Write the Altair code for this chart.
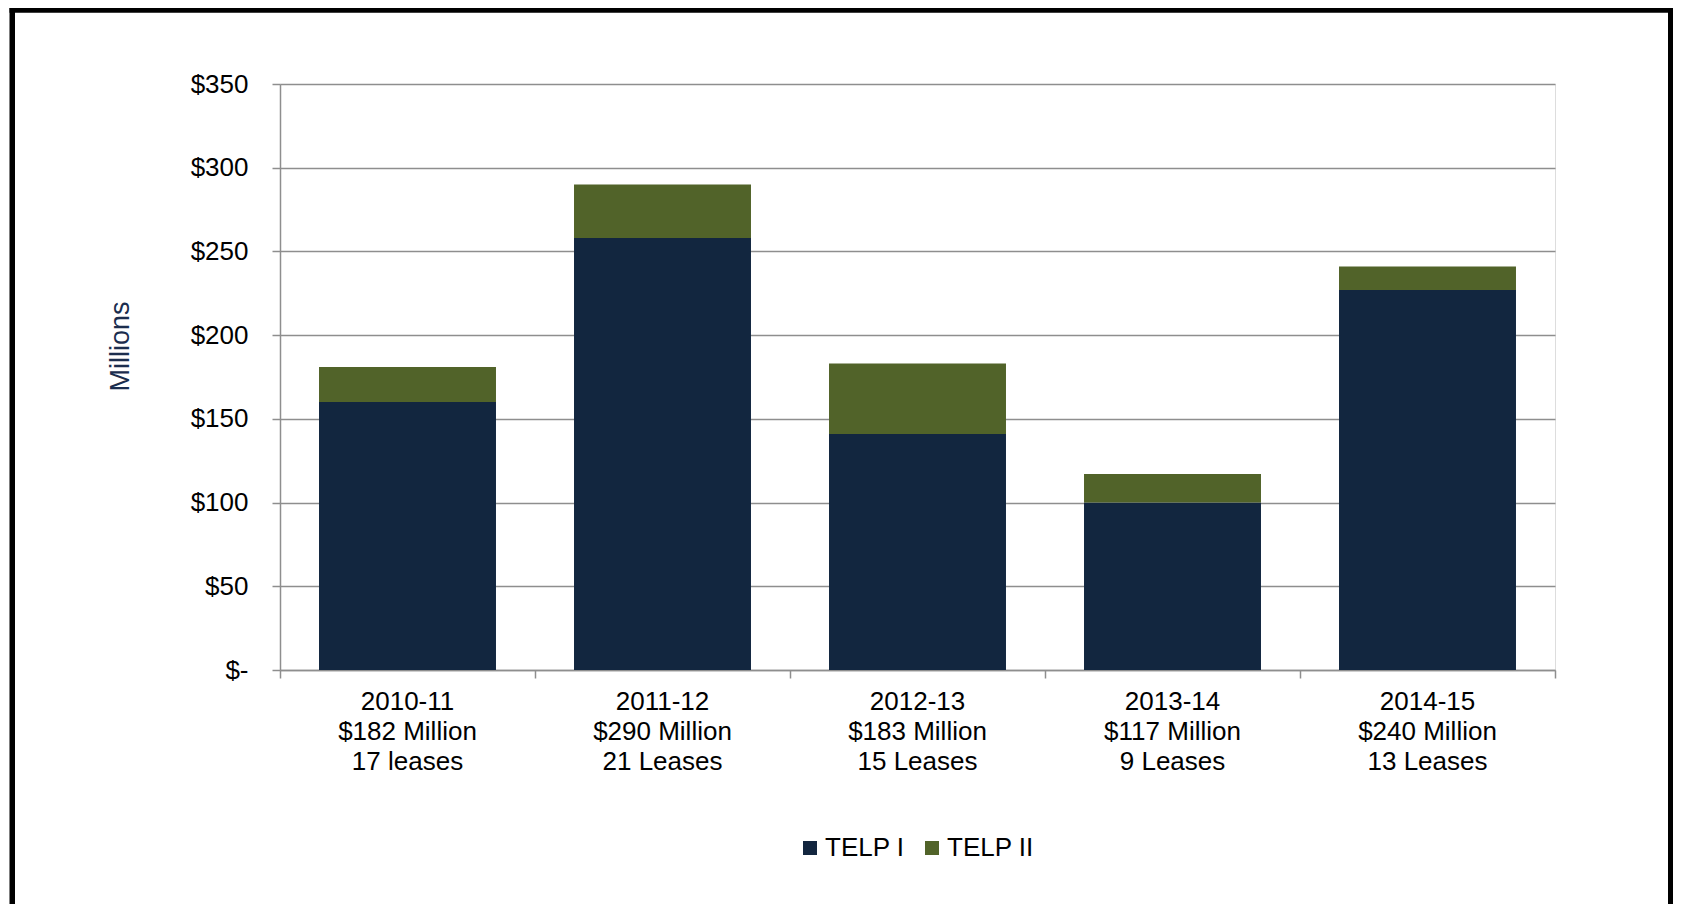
import altair as alt
import pandas as pd

years = ["2010-11", "2011-12", "2012-13", "2013-14", "2014-15"]
totals = ["$182 Million", "$290 Million", "$183 Million", "$117 Million", "$240 Million"]
leases = ["17 leases", "21 Leases", "15 Leases", "9 Leases", "13 Leases"]
series = ["TELP I", "TELP II"]
telp1 = [160, 258, 141, 100, 227]
telp2 = [21, 32, 42, 17, 14]
colors = ["#12263F", "#516329"]
y_ticks = [0, 50, 100, 150, 200, 250, 300, 350]

cats = [f"{y}|{t}|{l}" for y, t, l in zip(years, totals, leases)]
rows = []
for c, a, b in zip(cats, telp1, telp2):
    rows.append({"cat": c, "series": series[0], "value": a, "ord": 0})
    rows.append({"cat": c, "series": series[1], "value": b, "ord": 1})
df = pd.DataFrame(rows)

GRID = "#8e8e8e"
FONT = "Liberation Sans"

bars = alt.Chart(df).mark_bar(width={"band": 0.694}).encode(
    x=alt.X("cat:N", sort=cats,
            scale=alt.Scale(paddingInner=0, paddingOuter=0),
            axis=alt.Axis(title=None, labelAngle=0, labelFontSize=26, labelLineHeight=30,
                          labelPadding=10, tickSize=8, bandPosition=1, tickExtra=True,
                          labelExpr="split(datum.label, '|')", labelLimit=400,
                          labelColor="#000000", domainColor=GRID, tickColor=GRID,
                          domainWidth=1.5, tickWidth=1.5, labelFont=FONT)),
    y=alt.Y("value:Q", stack="zero",
            scale=alt.Scale(domain=[0, 350], nice=False),
            axis=alt.Axis(values=y_ticks, title="Millions",
                          labelExpr="datum.value == 0 ? '$-' : '$' + datum.value",
                          labelFontSize=26, labelPadding=24, tickSize=8,
                          labelColor="#000000", labelFont=FONT,
                          gridColor=GRID, gridWidth=1.5, domainColor=GRID, tickColor=GRID,
                          domainWidth=1.5, tickWidth=1.5,
                          titleFont=FONT, titleFontSize=27, titleFontWeight="normal",
                          titleColor="#1b2d4e", titleX=-152, titleY=262,
                          titleBaseline="alphabetic", titleAlign="center", titleAngle=270)),
    color=alt.Color("series:N", scale=alt.Scale(domain=series, range=colors),
                    legend=alt.Legend(title=None, orient="none", legendX=517, legendY=751,
                                      direction="horizontal", symbolType="square",
                                      symbolSize=196, symbolStrokeWidth=0,
                                      labelFontSize=26, labelFont=FONT, labelColor="#000000",
                                      labelOffset=2, columnPadding=14, padding=0)),
    order=alt.Order("ord:Q"),
)

one = alt.Data(values=[{}])
frame_style = dict(color="#000000", strokeWidth=5.5, strokeCap="square")
left = alt.Chart(one).mark_rule(**frame_style).encode(
    x=alt.value(-267.75), y=alt.value(-74), y2=alt.value(840))
top = alt.Chart(one).mark_rule(**frame_style).encode(
    x=alt.value(-267.75), x2=alt.value(1390.75), y=alt.value(-74))
right = alt.Chart(one).mark_rule(**frame_style).encode(
    x=alt.value(1390.75), y=alt.value(-74), y2=alt.value(840))

chart = alt.layer(bars, left, top, right).properties(
    width=1275, height=586,
    autosize=alt.AutoSizeParams(type="none"),
    padding={"left": 272, "top": 76, "right": 118, "bottom": 234},
).configure_view(stroke=None).configure(font=FONT)

chart.save("out.html", embed_options={"renderer": "svg", "actions": False})
